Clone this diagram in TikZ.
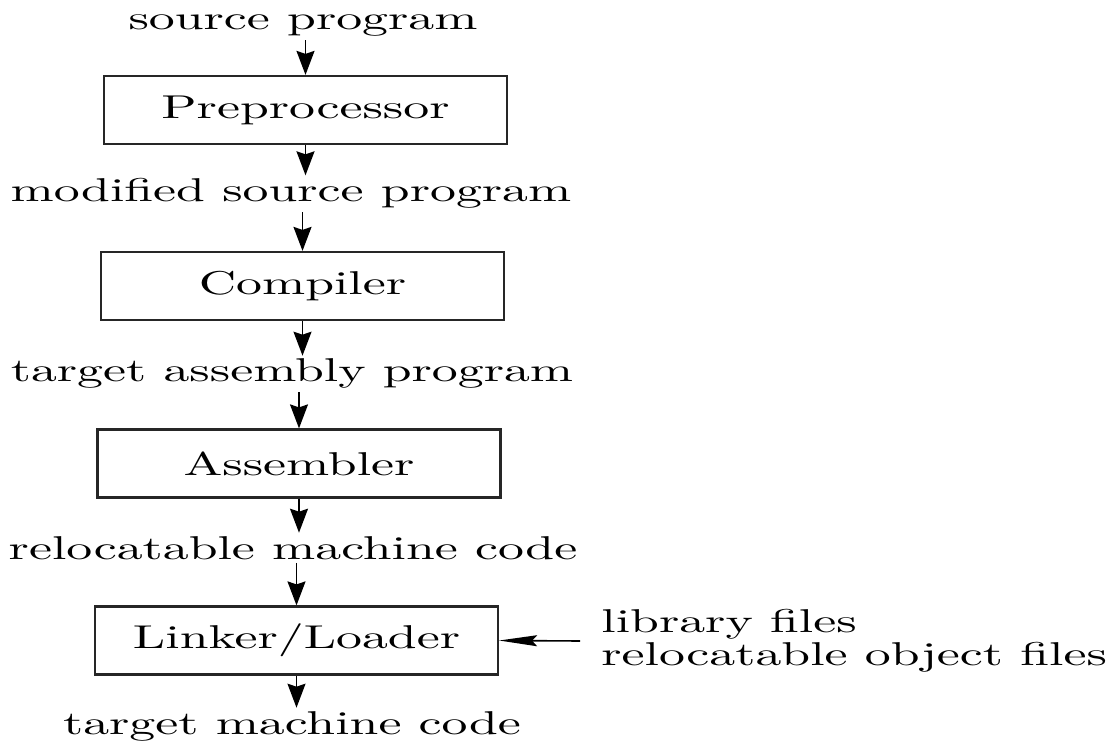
\documentclass[tikz,border=0pt]{standalone}
\usepackage{fontspec}
\setmainfont{lmroman10-regular}[Extension=.otf]
\usepackage{graphicx}
\usetikzlibrary{arrows.meta}
% text in this figure is set wide
\newcommand{\wide}[1]{\scalebox{1.57}[1]{#1}}
\begin{document}
\begin{tikzpicture}[x=0.5pt,y=-0.5pt,
  lbl/.style={font=\fontsize{16.5pt}{16.5pt}\selectfont, inner xsep=0pt, inner ysep=1.5pt, anchor=base},
  stage/.style={draw=black!85, line width=1.1pt, minimum width=201.5pt, minimum height=34pt,
                inner sep=0pt, font=\fontsize{16.5pt}{18pt}\selectfont},
  down/.style={line width=0.8pt, -{Stealth[length=12pt,width=9pt,inset=1.5pt]}},
  side/.style={line width=0.8pt, -{Stealth[length=19pt,width=5.5pt,inset=2.5pt]}}]
\useasboundingbox (0,0) rectangle (1112,742);

% processing stages
\node[stage] (pre)  at (305.5,110)   {\wide{Preprocessor}};
\node[stage] (comp) at (302.5,286)   {\wide{Compiler}};
\node[stage] (asm)  at (299,463.5)   {\wide{Assembler}};
\node[stage] (link) at (296.5,640.5) {\wide{Linker/Loader}};

% intermediate products
\node[lbl] (src)   at (303,30)  {\wide{source program}};
\node[lbl] (mod)   at (291,202) {\wide{modified source program}};
\node[lbl] (tap)   at (292,382) {\wide{target assembly program}};
\node[lbl] (reloc) at (293,559) {\wide{relocatable machine code}};
\node[lbl] (tgt)   at (292,734) {\wide{target machine code}};
\node[lbl, anchor=west, align=left, inner ysep=0pt] (lib) at (601,641)
  {\wide{library files}\\\wide{relocatable object files}};

% flow
\draw[down] (pre.north |- src.south) -- (pre.north);
\draw[down] (pre.south) -- (pre.south |- mod.north);
\draw[down] (comp.north |- mod.south) -- (comp.north);
\draw[down] (comp.south) -- (comp.south |- tap.north);
\draw[down] (asm.north |- tap.south) -- (asm.north);
\draw[down] (asm.south) -- (asm.south |- reloc.north);
\draw[down] (link.north |- reloc.south) -- (link.north);
\draw[down] (link.south) -- (link.south |- tgt.north);
\draw[side] ([xshift=-10.5pt]lib.west) -- (link.east);
\end{tikzpicture}
\end{document}
